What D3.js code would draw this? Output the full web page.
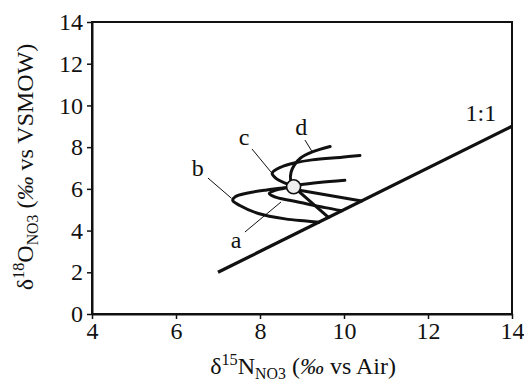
<!DOCTYPE html>
<html><head><meta charset="utf-8">
<script src="https://cdn.jsdelivr.net/npm/d3@7"></script>
<style>
body{margin:0;background:#fff}
svg text{font-family:"Liberation Serif","Times New Roman",serif;fill:#111}
</style>
</head><body><svg id="chart" width="524" height="384"></svg>
<script>
// ---- data (δ15N, δ18O) ----
const xTicks = [4, 6, 8, 10, 12, 14];
const yTicks = [0, 2, 4, 6, 8, 10, 12, 14];
const oneToOneLine = [[7, 2], [14, 9]];
const sourcePoint = [8.8, 6.1];
const curveA = [[8.8,6.1],[8.55,6.02],[8.36,5.93],[8.22,5.78],[8.35,5.62],[8.7,5.45],[9.1,5.29],[9.55,5.1],[9.95,4.95]];
const curveB = [[8.8,6.1],[8.48,6.03],[8.16,5.95],[7.68,5.79],[7.42,5.63],[7.35,5.45],[7.52,5.2],[7.96,4.82],[8.6,4.56],[9.1,4.46],[9.4,4.4]];
const curveBTail = [[8.8,6.15],[9.4,6.3],[10.02,6.41]];
const curveC = [[8.8,6.1],[8.6,6.27],[8.38,6.5],[8.29,6.76],[8.52,7.06],[8.84,7.25],[9.24,7.39],[9.95,7.52],[10.38,7.6]];
const curveD = [[8.8,6.1],[8.73,6.4],[8.74,6.8],[8.82,7.15],[8.96,7.47],[9.26,7.78],[9.67,8.03]];
const curveSteep = [[8.8,6.1],[9.63,4.63]];
const curveRight = [[8.8,5.98],[10.42,5.42]];
const curveNames = ["a", "b", "c", "d"];
const labelPos = [[7.43,3.55],[6.52,7.0],[7.62,8.49],[8.98,8.97]];
const leaderFrom = [[7.64,3.93],[6.76,6.52],[7.81,7.91],[9.07,8.34]];
const leaderTo = [[8.5,5.37],[7.32,5.55],[8.26,6.81],[9.23,7.82]];
const slopeLabel = "1:1";
const slopeLabelPos = [13.26, 9.62];

// ---- layout ----
const W = 524, H = 384;
const m = {left: 92, right: 12, top: 22, bottom: 70};
const svg = d3.select("#chart");
const x = d3.scaleLinear().domain([4, 14]).range([m.left, W - m.right]);
const y = d3.scaleLinear().domain([0, 14]).range([H - m.bottom, m.top]);
const FS = 24;

// frame
svg.append("rect")
  .attr("x", x(4)).attr("y", y(14))
  .attr("width", x(14) - x(4)).attr("height", y(0) - y(14))
  .attr("fill", "none").attr("stroke", "#111").attr("stroke-width", 2);

const gx = svg.append("g").attr("transform", `translate(0,${y(0)})`)
  .call(d3.axisBottom(x).tickValues(xTicks).tickSize(5).tickSizeOuter(0).tickPadding(3).tickFormat(d3.format("d")));
const gy = svg.append("g").attr("transform", `translate(${x(4)},0)`)
  .call(d3.axisLeft(y).tickValues(yTicks).tickSize(5).tickSizeOuter(0).tickPadding(4).tickFormat(d3.format("d")));
[gx, gy].forEach(g => {
  g.attr("font-family", null).attr("font-size", null);
  g.select(".domain").attr("stroke", "#111").attr("stroke-width", 2);
  g.selectAll(".tick line").attr("stroke", "#111").attr("stroke-width", 1.5);
  g.selectAll(".tick text").attr("font-size", FS).attr("fill", "#111");
});

// 1:1 line
const line = d3.line().x(d => x(d[0])).y(d => y(d[1]));
svg.append("path").datum(oneToOneLine).attr("d", line)
  .attr("fill", "none").attr("stroke", "#111").attr("stroke-width", 3.2);

// curves
const smooth = d3.line().x(d => x(d[0])).y(d => y(d[1])).curve(d3.curveCatmullRom.alpha(0.5));
[curveA, curveB, curveBTail, curveC, curveD, curveSteep, curveRight].forEach(c => {
  svg.append("path").datum(c).attr("d", smooth)
    .attr("fill", "none").attr("stroke", "#111").attr("stroke-width", 3)
    .attr("stroke-linecap", "round").attr("stroke-linejoin", "round");
});

// source point
svg.append("circle").attr("cx", x(sourcePoint[0])).attr("cy", y(sourcePoint[1])).attr("r", 7)
  .attr("fill", "#eeeeee").attr("stroke", "#111").attr("stroke-width", 1.6);

// leaders and labels
curveNames.forEach((n, i) => {
  svg.append("line")
    .attr("x1", x(leaderFrom[i][0])).attr("y1", y(leaderFrom[i][1]))
    .attr("x2", x(leaderTo[i][0])).attr("y2", y(leaderTo[i][1]))
    .attr("stroke", "#111").attr("stroke-width", 1);
  svg.append("text").attr("x", x(labelPos[i][0])).attr("y", y(labelPos[i][1]))
    .attr("text-anchor", "middle").attr("dominant-baseline", "central")
    .attr("font-size", FS).text(n);
});
svg.append("text").attr("x", x(slopeLabelPos[0])).attr("y", y(slopeLabelPos[1]))
  .attr("text-anchor", "middle").attr("dominant-baseline", "central")
  .attr("font-size", FS).text(slopeLabel);

// axis titles
function title(t, iso, el, sub, unit) {
  t.append("tspan").text("δ");
  t.append("tspan").attr("font-size", FS * 0.68).attr("dy", -9).text(iso);
  t.append("tspan").attr("dy", 9).text(el);
  t.append("tspan").attr("font-size", FS * 0.66).attr("dy", 5).text(sub);
  t.append("tspan").attr("dy", -5).text(" (");
  t.append("tspan").attr("font-style", "italic").text("‰");
  t.append("tspan").text(" vs " + unit + ")");
}
const xt = svg.append("text").attr("x", 303).attr("y", 374)
  .attr("text-anchor", "middle").attr("font-size", FS);
title(xt, "15", "N", "NO3", "Air");
const yt = svg.append("text").attr("transform", "translate(33,167) rotate(-90)")
  .attr("text-anchor", "middle").attr("font-size", FS);
title(yt, "18", "O", "NO3", "VSMOW");
</script>
</body></html>
